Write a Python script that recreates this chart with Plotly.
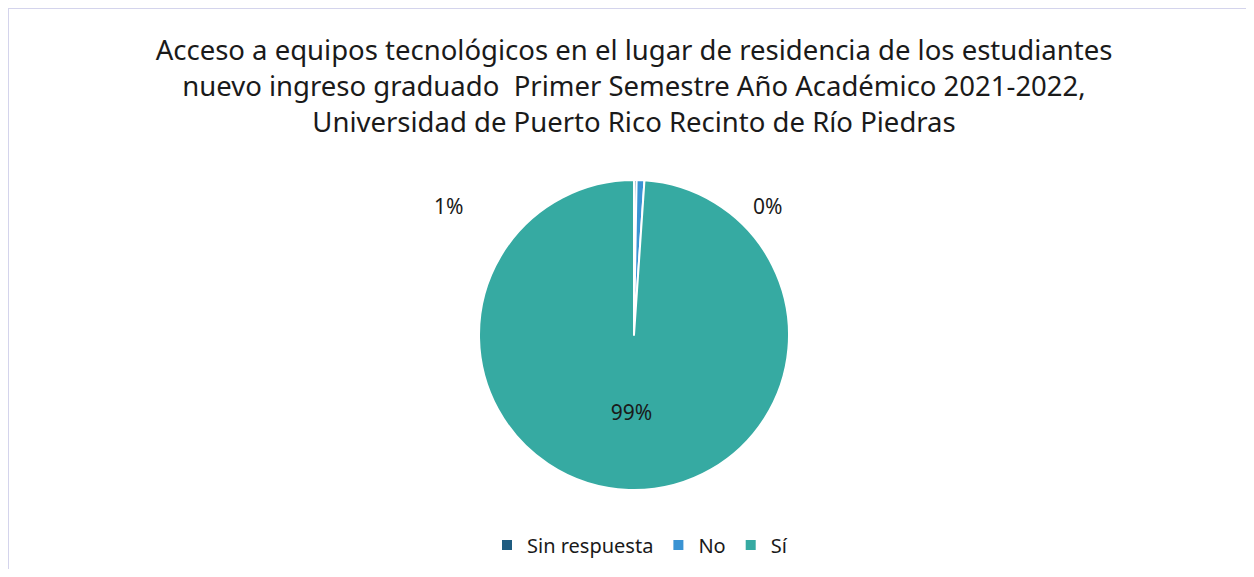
import plotly.graph_objects as go

categorias = ["Sin respuesta", "No", "Sí"]
estudiantes = [1, 3, 368]
colores = ["#1F5C80", "#3A93D3", "#36AAA2"]

# the page body has an 8px margin, so the figure is drawn 8px in
OFF = 8
W, H = 1254 - 2 * OFF, 577 - 2 * OFF


def px(x):
    return (x - OFF) / W


def py(y):
    return 1 - (y - OFF) / H


total = sum(estudiantes)
pct = [f"{v / total:.0%}" for v in estudiantes]

fig = go.Figure()
fig.add_trace(go.Pie(
    labels=categorias,
    values=estudiantes,
    sort=False,
    direction="clockwise",
    rotation=0,
    marker=dict(colors=colores, line=dict(color="white", width=2)),
    text=pct,
    texttemplate=["", "", "%{text}"],
    textposition="inside",
    insidetextorientation="horizontal",
    textfont=dict(size=21, color="#1a1a1a"),
    domain=dict(x=[px(479), px(789)], y=[py(490), py(180)]),
    showlegend=True,
))

# labels for the tiny slices, placed like the original chart
fig.add_annotation(x=px(768), y=py(190), xref="paper", yref="paper",
                   text=pct[0], showarrow=False, font=dict(size=21, color="#1a1a1a"))
fig.add_annotation(x=px(448), y=py(206), xref="paper", yref="paper",
                   text=pct[1], showarrow=False, font=dict(size=21, color="#1a1a1a"))

fig.update_layout(
    width=W, height=H,
    margin=dict(l=0, r=0, t=0, b=0),
    paper_bgcolor="white",
    font=dict(family="Noto Sans, sans-serif", color="#1a1a1a"),
    title=dict(
        text="Acceso a equipos tecnológicos en el lugar de residencia de los estudiantes<br>"
             "nuevo ingreso graduado  Primer Semestre Año Académico 2021-2022,<br>"
             "Universidad de Puerto Rico Recinto de Río Piedras",
        x=px(634), xanchor="center", y=py(60), yanchor="top",
        font=dict(size=27.5, color="#1a1a1a"),
    ),
    legend=dict(
        orientation="h", x=px(640), xanchor="center", y=py(545), yanchor="middle",
        font=dict(size=20, color="#1a1a1a"),
        itemwidth=30,
    ),
    shapes=[dict(type="rect", xref="paper", yref="paper",
                 x0=0, x1=1.02, y0=-0.05, y1=1,
                 line=dict(color="#D4D4EC", width=2))],
)

fig.write_html("out.html")
